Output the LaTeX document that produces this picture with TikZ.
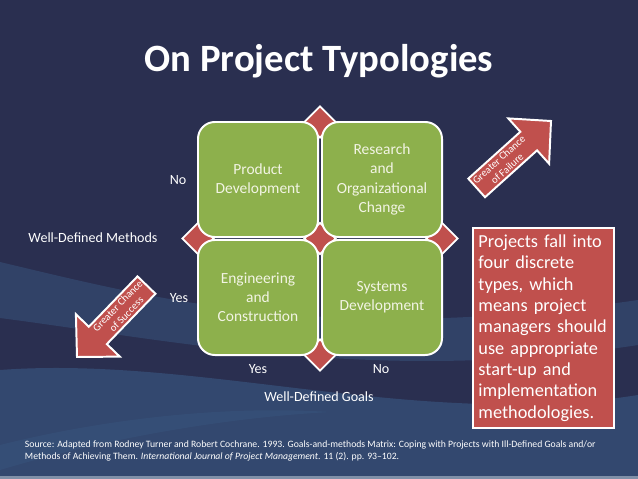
\documentclass[tikz,border=0pt]{standalone}
\usepackage{fontspec}
\setmainfont{Carlito}
\usetikzlibrary{shapes.geometric, positioning}
\definecolor{SlideNavy}{HTML}{2A2F50}
\definecolor{SlideBlue}{HTML}{3A5A84}
\definecolor{SlideEdge}{HTML}{8090A8}
\definecolor{CellGreen}{HTML}{8DB04C}
\definecolor{CellText}{HTML}{F2F4E4}
\definecolor{SlideRed}{HTML}{C0504D}

\begin{document}
\begin{tikzpicture}[x=0.025cm, y=-0.025cm,
    cell/.style={draw=white, line width=1.4pt, fill=CellGreen, rounded corners=12pt, minimum width=3cm, minimum height=2.875cm, align=center, text=CellText, font=\fontsize{11}{13.6}\selectfont},
    joint/.style={diamond, draw=white, line width=1.2pt, fill=SlideRed, minimum size=0.8cm, inner sep=0pt},
    lbl/.style={text=white, font=\fontsize{10}{12}\selectfont},
    bigarrow/.style={draw=white, line width=1.4pt, fill=SlideRed, line join=miter},
    arrtext/.style={text=white, align=center, font=\fontsize{7.5}{8.6}\selectfont, inner sep=0pt},
    note/.style={draw=white, line width=1pt, fill=SlideRed, text=white, align=left, minimum width=3.525cm, minimum height=5cm, text width=3.25cm, inner xsep=4pt, font=\fontsize{13}{15.2}\selectfont}
  ]
  \useasboundingbox (0,0) rectangle (638,479);
  % background
  \fill[SlideNavy] (0,0) rectangle (638,479);
  \fill[SlideBlue, opacity=0.45] (0,262) .. controls (160,300) and (330,345) .. (638,300) -- (638,345) .. controls (380,385) and (170,340) .. (0,318) -- cycle;
  \fill[SlideBlue, opacity=0.6] (0,370) .. controls (200,355) and (420,430) .. (638,395) -- (638,479) -- (0,479) -- cycle;
  \fill[SlideBlue, opacity=0.35] (0,445) .. controls (100,420) and (220,405) .. (330,412) .. controls (220,418) and (100,440) .. (0,470) -- cycle;
  \fill[SlideEdge] (0,476) rectangle (638,479);

  \node[font=\fontsize{27.5}{32}\selectfont\bfseries, text=white] (title) at (319,61) {On Project Typologies};

  % diamonds behind the matrix
  \node[joint] (dtop) at (320,122) {};
  \node[joint] (dleft) at (198,238.5) {};
  \node[joint] (dmid) at (320,238.5) {};
  \node[joint] (dright) at (442,238.5) {};
  \node[joint] (dbot) at (320,355) {};

  % the four types
  \node[cell] (pd) at (258,179.5) {Product\\Development};
  \node[cell] (rc) at (382,179.5) {Research\\and\\Organizational\\Change};
  \node[cell] (ec) at (258,297.5) {Engineering\\and\\Construction};
  \node[cell] (sd) at (382,297.5) {Systems\\Development};

  % axis labels
  \node[lbl] (mno) at (178,180) {No};
  \node[lbl] (myes) at (179,298) {Yes};
  \node[lbl] (methods) at (93,238) {Well-Defined Methods};
  \node[lbl] (gyes) at (258,369) {Yes};
  \node[lbl] (gno) at (381,369) {No};
  \node[lbl] (goals) at (319,397) {Well-Defined Goals};

  % greater chance of failure
  \begin{scope}[shift={(551,121)}, rotate=42]
    \draw[bigarrow] (0,0) -- (-30,30.5) -- (-30,12.5) -- (-100,12.5) -- (-100,-12.5) -- (-30,-12.5) -- (-30,-30.5) -- cycle;
  \end{scope}
  \node[arrtext, rotate=42] (fail) at (503,164) {Greater Chance\\of Failure};

  % greater chance of success
  \begin{scope}[shift={(77,357)}, rotate=226]
    \draw[bigarrow] (0,0) -- (-30,30.5) -- (-30,12.5) -- (-100,12.5) -- (-100,-12.5) -- (-30,-12.5) -- (-30,-30.5) -- cycle;
  \end{scope}
  \node[arrtext, rotate=46] (succ) at (122,310) {Greater Chance\\of Success};

  \node[note] (msg) at (543.5,328) {Projects fall into\\four discrete\\types, which\\means project\\managers should\\use appropriate\\start-up and\\implementation\\methodologies.};

  \node[anchor=west, align=left, text=white, font=\fontsize{6.9}{8.4}\selectfont] (src) at (20,451) {Source: Adapted from Rodney Turner and Robert Cochrane. 1993. Goals-and-methods Matrix: Coping with Projects with Ill-Defined Goals and/or\\Methods of Achieving Them. \textit{International Journal of Project Management}. 11 (2). pp. 93--102.};
\end{tikzpicture}
\end{document}
